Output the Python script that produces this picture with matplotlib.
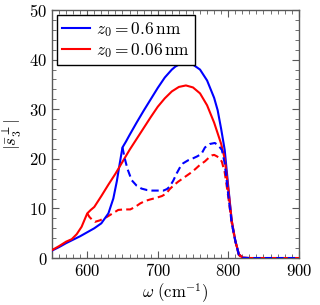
import numpy as np
import matplotlib
matplotlib.use("Agg")
import matplotlib.pyplot as plt
from matplotlib.ticker import MultipleLocator, FuncFormatter

plt.rcParams['mathtext.fontset'] = 'cm'
plt.rcParams['font.family'] = 'serif'
plt.rcParams['font.serif'] = ['DejaVu Serif']

# z0 = 0.6 nm, solid
blue_x = [550, 560, 570, 580, 590, 600, 610, 620, 630, 637, 642, 646, 650, 655, 660, 670, 680, 690, 700,
          710, 720, 725, 730, 735, 740, 745, 750, 760, 770, 780, 785, 790, 795, 800, 805, 810, 815, 820, 830, 900]
blue_y = [1.5, 2.2, 3.0, 3.7, 4.4, 5.2, 6.0, 7.0, 9.0, 12.0, 15.5, 19.0, 22.3, 23.5, 24.8, 27.3, 29.7, 32.0, 34.3,
          36.4, 38.0, 38.6, 39.0, 39.3, 39.4, 39.3, 39.0, 38.0, 35.8, 32.3, 29.8, 26.0, 21.8, 14.5, 7.5, 3.5, 0.8,
          0.1, 0, 0]

# z0 = 0.06 nm, solid
red_x = [550, 560, 570, 578, 585, 592, 597, 600, 605, 610, 620, 630, 640, 650, 660, 670, 680, 690, 700,
         710, 720, 730, 740, 750, 760, 770, 780, 790, 795, 800, 805, 810, 815, 820, 830, 900]
red_y = [1.6, 2.4, 3.3, 3.8, 4.8, 6.3, 8.0, 9.0, 9.7, 10.3, 12.5, 14.8, 17.0, 19.4, 21.8, 24.0, 26.2, 28.4, 30.5,
         32.2, 33.6, 34.5, 34.8, 34.4, 33.2, 30.8, 27.3, 23.0, 20.0, 14.0, 7.5, 3.5, 0.8, 0.1, 0, 0]

# dashed companions
blue_d_x = [650, 653, 657, 663, 670, 677, 685, 692, 700, 708, 713, 717, 722, 727, 732, 736, 743, 750, 756,
            762, 767, 774, 781, 786, 791, 795, 800, 805, 810, 815, 820, 830, 900]
blue_d_y = [22.3, 20.2, 18.0, 15.7, 14.6, 14.0, 13.7, 13.6, 13.6, 13.6, 13.9, 14.4, 15.6, 17.1, 18.4, 19.1, 19.7,
            20.1, 20.5, 21.0, 22.3, 23.0, 23.2, 22.7, 21.8, 19.1, 12.8, 7.0, 3.5, 0.7, 0.0, 0, 0]

red_d_x = [600, 603, 607, 611, 618, 628, 636, 644, 652, 661, 668, 675, 682, 689, 697, 706, 712, 717, 723, 729,
           737, 746, 753, 760, 767, 773, 777, 780, 784, 788, 791, 795, 800, 805, 810, 815, 820, 830, 900]
red_d_y = [9.0, 8.3, 7.7, 7.3, 7.6, 8.3, 9.0, 9.7, 9.8, 9.8, 10.3, 11.0, 11.5, 11.8, 12.1, 12.5, 13.0, 13.9,
           14.7, 15.4, 16.2, 17.1, 17.9, 18.8, 19.5, 20.3, 20.7, 20.8, 20.5, 20.1, 19.4, 17.3, 12.4, 7.0, 3.4,
           0.6, 0, 0, 0]

labels = [r'$z_0 = 0.6\,\mathrm{nm}$', r'$z_0 = 0.06\,\mathrm{nm}$']
xticks = [600, 700, 800, 900]
yticks = [0, 10, 20, 30, 40, 50]

fig = plt.figure(figsize=(3.2, 3.05), dpi=100)
ax = fig.add_axes([0.1625, 0.154, 0.771, 0.813])

lw = 1.5
ax.plot(blue_x, blue_y, color='#0000ff', lw=lw, label=labels[0], zorder=3)
ax.plot(red_x, red_y, color='#ff0000', lw=lw, label=labels[1], zorder=3)
ax.plot(blue_d_x, blue_d_y, color='#0000ff', lw=lw, ls=(0, (3.5, 2)), zorder=3)
ax.plot(red_d_x, red_d_y, color='#ff0000', lw=lw, ls=(0, (3.5, 2)), zorder=2)

ax.set_xlim(550, 900)
ax.set_ylim(0, 50)
ax.set_xticks(xticks)
ax.set_yticks(yticks)
ax.xaxis.set_minor_locator(MultipleLocator(10))
ax.yaxis.set_minor_locator(MultipleLocator(2))
fmt = FuncFormatter(lambda v, p: r'$%d$' % v)
ax.xaxis.set_major_formatter(fmt)
ax.yaxis.set_major_formatter(fmt)

tc = '0.35'
ax.tick_params(which='both', direction='in', top=True, right=True, color=tc, labelsize=12)
ax.tick_params(which='major', length=5, width=0.8)
ax.tick_params(which='minor', length=3, width=0.6)
for s in ax.spines.values():
    s.set_color(tc)
    s.set_linewidth(1.0)

ax.set_xlabel(r'$\omega\ (\mathrm{cm}^{-1})$', fontsize=12, labelpad=1)
ax.set_ylabel(r'$|\bar{s}_3^{\perp}|$', fontsize=12, labelpad=4)

leg = ax.legend(loc='upper left', fontsize=12.5, fancybox=False, edgecolor='black', framealpha=1,
                handlelength=1.6, handletextpad=0.35, borderpad=0.3, labelspacing=0.1,
                borderaxespad=0.3)
leg.get_frame().set_linewidth(1.0)

fig.savefig('out.png', dpi=100)
